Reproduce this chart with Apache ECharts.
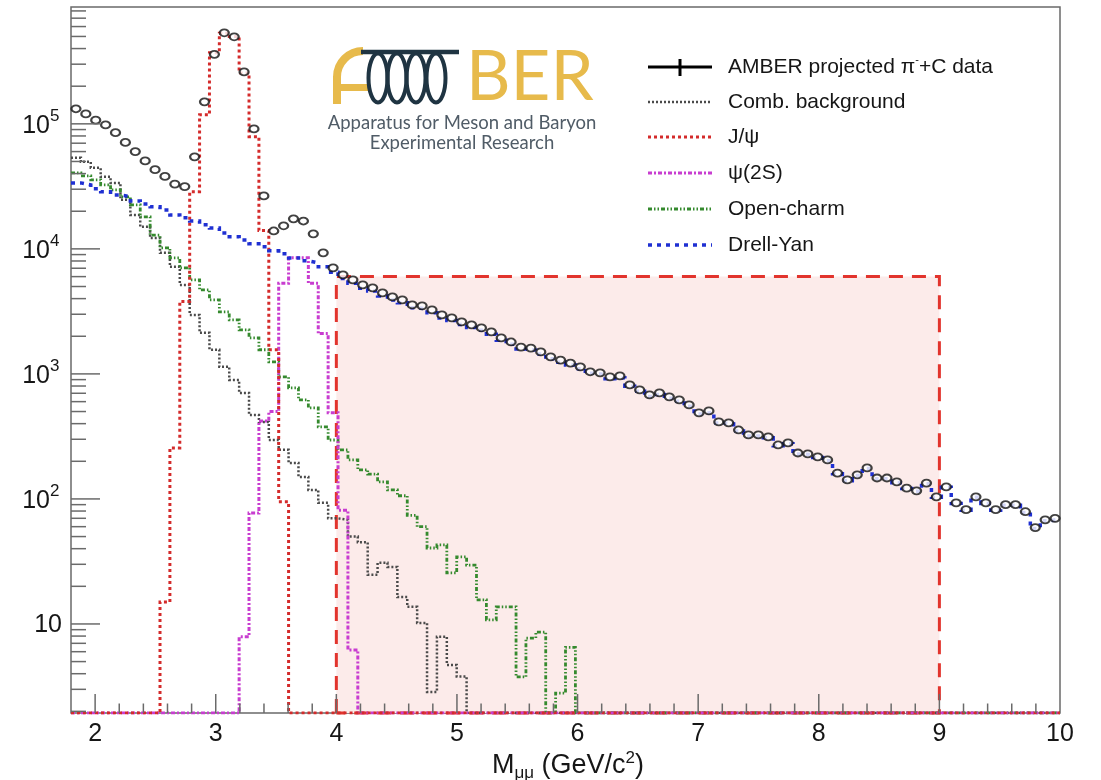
<!DOCTYPE html>
<html>
<head>
<meta charset="utf-8">
<script src="https://cdn.jsdelivr.net/npm/echarts@6/dist/echarts.min.js"></script>
<style>
  html, body { margin: 0; padding: 0; background: #ffffff; }
  #chart { width: 1101px; height: 780px; }
</style>
</head>
<body>
<div id="chart"></div>
<script>
// Dimuon invariant-mass spectrum: 100 bins from 1.8 to 10 GeV/c^2
const X_MIN = 1.8;
const X_MAX = 10;
const N_BINS = 100;
const Y_MIN = 1.94;
const Y_MAX = 8.6e5;

// Projected data, one entry per bin (bin 0 .. 99)
const projectedData = [
  132000, 120000, 107000, 98000, 85000, 71000, 60000, 50500, 43000, 38000,
  33000, 31500, 54500, 150000, 360000, 535000, 497000, 260000, 91000, 26500,
  13900, 15300, 17400, 16700, 13200, 9300, 7050, 6200, 5650, 5150,
  4880, 4450, 4130, 3910, 3560, 3500, 3250, 2960, 2810, 2610,
  2470, 2330, 2170, 1940, 1800, 1640, 1610, 1500, 1370, 1290,
  1220, 1140, 1040, 1020, 946, 963, 817, 745, 679, 705,
  655, 620, 565, 488, 506, 413, 406, 356, 325, 325,
  313, 270, 281, 233, 229, 217, 205, 161, 142, 156,
  177, 147, 147, 137, 122, 116, 134, 104, 125, 93,
  82, 104, 93, 82, 90, 90, 79, 59, 68, 70
];

// Combinatorial background, bins 0 .. 39 (empty above)
const combStart = 0;
const combBackground = [
  53500, 49700, 44500, 37700, 33700, 24700, 18700, 15000, 12200, 9290,
  7180, 5150, 2960, 2130, 1560, 1140, 895, 705, 470, 413,
  296, 247, 194, 150, 118, 93, 70, 68, 50, 45,
  24.7, 30.8, 28.6, 16.4, 13.7, 10.2, 2.86, 7.9, 4.7, 3.8
];

// J/psi, bins 9 .. 21
const jpsiStart = 9;
const jpsi = [15, 256, 3800, 28600, 118000, 370000, 530000, 500000, 255000, 79000, 14000, 1560, 95];

// psi(2S), bins 17 .. 28
const psi2sStart = 17;
const psi2s = [7.9, 77, 420, 500, 5300, 8500, 8500, 5300, 2100, 490, 81, 6.2];

// Open charm, bins 0 .. 50
const openCharmStart = 0;
const openCharm = [
  40600, 38400, 35600, 32500, 29600, 26100, 22500, 18000, 12900, 10200,
  8470, 7050, 5650, 4700, 3910, 3130, 2700, 2250, 1940, 1560,
  1250, 946, 773, 620, 535, 377, 296, 247, 205, 171,
  158, 137, 118, 106, 74, 60, 40.5, 42.9, 25.6, 34.4,
  29.6, 15.6, 10.8, 13.7, 13.7, 3.77, 7.7, 8.6, 0, 2.8, 6.5
];

// Drell-Yan, bins 0 .. 99
const drellYanStart = 0;
const drellYan = [
  33700, 32500, 30200, 28600, 27000, 26100, 24200, 22900, 21700, 20500,
  18700, 17700, 16700, 15600, 14700, 13400, 12500, 11800, 11000, 10400,
  9640, 9120, 8470, 8020, 7730, 7200, 6500, 5800, 5300, 4850,
  4600, 4200, 3900, 3700, 3380, 3300, 3080, 2800, 2670, 2480,
  2350, 2230, 2080, 1860, 1730, 1580, 1550, 1440, 1320, 1240,
  1180, 1100, 1010, 990, 915, 930, 795, 725, 660, 685,
  640, 605, 550, 478, 495, 405, 398, 350, 318, 320,
  308, 266, 276, 229, 226, 214, 202, 159, 140, 154,
  175, 145, 145, 135, 121, 115, 132, 103, 124, 92,
  81, 103, 92, 81, 89, 89, 78, 58, 67, 69
];

// High-mass window [x0, x1] up to the given height
const windowMass = [4, 9];
const windowTop = 6000;

// Axis ticks and labels
const xMajorTicks = [2, 3, 4, 5, 6, 7, 8, 9, 10];
const xTickLabels = ['2', '3', '4', '5', '6', '7', '8', '9', '10'];
const xMinorStep = 0.2;
const yMajorTicks = [10, 100, 1000, 10000, 100000];
const yTickExponents = ['', '2', '3', '4', '5'];

const FONT = '"Liberation Sans", Arial, Helvetica, sans-serif';
const LOGO_FONT = 'Lato, "Open Sans", sans-serif';
const AXIS_COLOR = '#6a6a6a';
const TEXT_COLOR = '#161616';
const GOLD = '#e7ba4b';
const NAVY = '#1f3442';

const BIN_WIDTH = (X_MAX - X_MIN) / N_BINS;

const styles = {
  comb:  { color: '#4a4a4a', width: 2.5, type: [2, 2] },
  jpsi:  { color: '#d42b2b', width: 3,   type: [3, 3] },
  psi2s: { color: '#c83dd0', width: 3,   type: [4, 2, 2, 2] },
  charm: { color: '#358a2e', width: 2.8, type: [4, 2, 1.5, 2, 1.5, 2] },
  dy:    { color: '#1f30d2', width: 3.5, type: [4, 5] }
};

// Turn bin contents into a stepped outline; empty bins sit on the frame bottom
function stepPoints(start, values) {
  const pts = [];
  for (let i = 0; i < N_BINS; i++) {
    const k = i - start;
    const v = (k >= 0 && k < values.length) ? values[k] : 0;
    const y = v > Y_MIN ? v : Y_MIN;
    pts.push([X_MIN + i * BIN_WIDTH, y], [X_MIN + (i + 1) * BIN_WIDTH, y]);
  }
  return pts;
}

function histSeries(name, start, values, st, z) {
  return {
    name: name,
    type: 'line',
    data: stepPoints(start, values),
    showSymbol: false,
    symbol: 'none',
    silent: true,
    clip: true,
    z: z,
    lineStyle: { color: st.color, width: st.width, type: st.type, cap: 'butt', join: 'miter' }
  };
}

const dataPoints = projectedData.map((v, i) => [X_MIN + (i + 0.5) * BIN_WIDTH, v]);

// Tick data
const xTickData = [];
for (let k = 1; k < Math.round((X_MAX - X_MIN) / xMinorStep); k++) {
  const x = +(X_MIN + k * xMinorStep).toFixed(4);
  const mi = xMajorTicks.indexOf(Math.round(x));
  const isMajor = Math.abs(x - Math.round(x)) < 1e-6 && mi >= 0;
  xTickData.push([x, Y_MIN, isMajor ? 1 : 0, isMajor ? mi : -1]);
}
xTickData.push([X_MAX, Y_MIN, 2, xMajorTicks.indexOf(X_MAX)]); // label only, sits on the frame

const yTickData = [];
yMajorTicks.forEach((v, i) => yTickData.push([X_MIN, v, 1, i]));
for (let d = 1; d < Y_MAX; d *= 10) {
  for (let m = 2; m <= 9; m++) {
    const v = m * d;
    if (v > Y_MIN && v < Y_MAX) yTickData.push([X_MIN, v, 0, -1]);
  }
}

const chart = echarts.init(document.getElementById('chart'));

const option = {
  animation: false,
  backgroundColor: '#ffffff',
  grid: {
    left: 71, right: 41, top: 7, bottom: 67,
    show: true, borderColor: AXIS_COLOR, borderWidth: 1.5, backgroundColor: 'transparent'
  },
  xAxis: {
    type: 'value', min: X_MIN, max: X_MAX,
    axisLine: { show: false }, axisTick: { show: false },
    axisLabel: { show: false }, splitLine: { show: false }
  },
  yAxis: {
    type: 'log', logBase: 10, min: Y_MIN, max: Y_MAX,
    axisLine: { show: false }, axisTick: { show: false },
    axisLabel: { show: false }, splitLine: { show: false }
  },
  series: [
    {
      name: 'window',
      type: 'custom',
      silent: true,
      z: 1,
      encode: { x: [0, 2], y: [1, 3] },
      data: [[windowMass[0], Y_MIN, windowMass[1], windowTop]],
      renderItem: function (params, api) {
        const a = api.coord([api.value(0), api.value(1)]);
        const b = api.coord([api.value(2), api.value(3)]);
        return {
          type: 'group',
          children: [
            { type: 'rect', shape: { x: a[0], y: b[1], width: b[0] - a[0], height: a[1] - b[1] },
              style: { fill: '#fcebea', stroke: null } },
            { type: 'polyline', shape: { points: [[a[0], a[1]], [a[0], b[1]], [b[0], b[1]], [b[0], a[1]], [a[0], a[1]]] },
              style: { fill: null, stroke: '#e2342d', lineWidth: 3, lineDash: [14, 9] } }
          ]
        };
      }
    },
    histSeries('Comb. background', combStart, combBackground, styles.comb, 3),
    histSeries('Open-charm', openCharmStart, openCharm, styles.charm, 4),
    histSeries('psi(2S)', psi2sStart, psi2s, styles.psi2s, 5),
    histSeries('J/psi', jpsiStart, jpsi, styles.jpsi, 6),
    histSeries('Drell-Yan', drellYanStart, drellYan, styles.dy, 7),
    {
      name: 'AMBER projected data',
      type: 'scatter',
      data: dataPoints,
      symbol: 'emptyCircle',
      symbolSize: [9, 7],
      silent: true,
      z: 8,
      itemStyle: { color: '#111111', borderColor: '#111111', borderWidth: 2 }
    },
    {
      name: 'xticks',
      type: 'custom',
      silent: true,
      z: 9,
      clip: false,
      data: xTickData,
      renderItem: function (params, api) {
        const p = api.coord([api.value(0), api.value(1)]);
        const kind = api.value(2);
        const li = api.value(3);
        const children = [];
        if (kind < 2) {
          children.push({ type: 'line', shape: { x1: p[0], y1: p[1], x2: p[0], y2: p[1] - (kind === 1 ? 19 : 9.5) },
            style: { stroke: AXIS_COLOR, lineWidth: 1.5 } });
        }
        if (li >= 0) {
          children.push({ type: 'text', x: p[0], y: p[1] + 21,
            style: { text: xTickLabels[li], align: 'center', verticalAlign: 'middle', font: '25px ' + FONT, fill: TEXT_COLOR } });
        }
        return { type: 'group', children: children };
      }
    },
    {
      name: 'yticks',
      type: 'custom',
      silent: true,
      z: 9,
      clip: false,
      data: yTickData,
      renderItem: function (params, api) {
        const p = api.coord([api.value(0), api.value(1)]);
        const major = api.value(2) === 1;
        const li = api.value(3);
        const children = [{ type: 'line', shape: { x1: p[0], y1: p[1], x2: p[0] + (major ? 29 : 15), y2: p[1] },
          style: { stroke: AXIS_COLOR, lineWidth: 1.5 } }];
        if (major) {
          const exp = yTickExponents[li];
          if (exp) {
            children.push({ type: 'text', x: p[0] - 21, y: p[1] + 2,
              style: { text: '10', align: 'right', verticalAlign: 'middle', font: '25px ' + FONT, fill: TEXT_COLOR } });
            children.push({ type: 'text', x: p[0] - 21, y: p[1] - 8,
              style: { text: exp, align: 'left', verticalAlign: 'middle', font: '17px ' + FONT, fill: TEXT_COLOR } });
          } else {
            children.push({ type: 'text', x: p[0] - 9, y: p[1] + 1,
              style: { text: '10', align: 'right', verticalAlign: 'middle', font: '25px ' + FONT, fill: TEXT_COLOR } });
          }
        }
        return { type: 'group', children: children };
      }
    }
  ],
  graphic: []
};

// Legend
const legendY = [67, 102, 137, 173, 209, 245];
const legendX0 = 648, legendX1 = 712, legendTextX = 728;
const legendItems = [
  { key: null, label: null },
  { key: 'comb', label: 'Comb. background' },
  { key: 'jpsi', label: 'J/ψ' },
  { key: 'psi2s', label: 'ψ(2S)' },
  { key: 'charm', label: 'Open-charm' },
  { key: 'dy', label: 'Drell-Yan' }
];
const legendChildren = [];
legendItems.forEach((item, i) => {
  const y = legendY[i];
  if (item.key === null) {
    legendChildren.push({ type: 'line', shape: { x1: legendX0, y1: y, x2: legendX1, y2: y }, style: { stroke: '#000', lineWidth: 3 } });
    legendChildren.push({ type: 'line', shape: { x1: 680, y1: y - 8, x2: 680, y2: y + 9 }, style: { stroke: '#000', lineWidth: 3 } });
    legendChildren.push({ type: 'text', x: legendTextX, y: y,
      style: { text: 'AMBER projected π{sup|-}+C data', font: '21px ' + FONT, fill: TEXT_COLOR,
        verticalAlign: 'middle', lineHeight: 26,
        rich: { sup: { fontSize: 11, lineHeight: 11, verticalAlign: 'top', fontFamily: FONT, fill: TEXT_COLOR } } } });
  } else {
    const st = styles[item.key];
    legendChildren.push({ type: 'line', shape: { x1: legendX0, y1: y, x2: legendX1, y2: y },
      style: { stroke: st.color, lineWidth: st.width, lineDash: st.type } });
    legendChildren.push({ type: 'text', x: legendTextX, y: y,
      style: { text: item.label, font: '21px ' + FONT, fill: TEXT_COLOR, verticalAlign: 'middle' } });
  }
});
option.graphic.push({ type: 'group', silent: true, children: legendChildren });

// Experiment logo
const loopCenters = [378, 397, 416, 436];
const logoChildren = [
  { type: 'line', shape: { x1: 337, y1: 104, x2: 337, y2: 76 }, style: { stroke: GOLD, lineWidth: 8 } },
  { type: 'arc', shape: { cx: 363, cy: 77, r: 26, startAngle: Math.PI, endAngle: Math.PI * 1.5, clockwise: true },
    style: { stroke: GOLD, lineWidth: 8, fill: null } },
  { type: 'line', shape: { x1: 333, y1: 87.5, x2: 369, y2: 87.5 }, style: { stroke: GOLD, lineWidth: 7 } },
  { type: 'line', shape: { x1: 361, y1: 52, x2: 459, y2: 52 }, style: { stroke: NAVY, lineWidth: 4.5 } }
];
loopCenters.forEach(cx => {
  logoChildren.push({ type: 'ellipse', shape: { cx: cx, cy: 78, rx: 9.5, ry: 24.5 },
    style: { stroke: NAVY, lineWidth: 4, fill: null } });
});
logoChildren.push({ type: 'text', x: 466, y: 112,
  style: { text: 'BER', font: '400 69px ' + LOGO_FONT, fill: GOLD, align: 'left', verticalAlign: 'bottom' } });
logoChildren.push({ type: 'text', x: 462, y: 123,
  style: { text: 'Apparatus for Meson and Baryon', font: '18.5px ' + LOGO_FONT, fill: '#505c67', align: 'center', verticalAlign: 'middle' } });
logoChildren.push({ type: 'text', x: 462, y: 143,
  style: { text: 'Experimental Research', font: '18.5px ' + LOGO_FONT, fill: '#505c67', align: 'center', verticalAlign: 'middle' } });
option.graphic.push({ type: 'group', silent: true, children: logoChildren });

// X axis title
option.graphic.push({
  type: 'text', x: 568, y: 766, silent: true,
  style: {
    text: '{m|M}{s|μμ}{m| (GeV/c}{p|2}{m|)}',
    align: 'center', verticalAlign: 'middle', fill: TEXT_COLOR,
    rich: {
      m: { fontSize: 27, lineHeight: 32, fontFamily: FONT, fill: TEXT_COLOR },
      s: { fontSize: 17, lineHeight: 17, verticalAlign: 'bottom', fontFamily: FONT, fill: TEXT_COLOR },
      p: { fontSize: 17, lineHeight: 17, verticalAlign: 'top', fontFamily: FONT, fill: TEXT_COLOR }
    }
  }
});

chart.setOption(option);
</script>
</body>
</html>
